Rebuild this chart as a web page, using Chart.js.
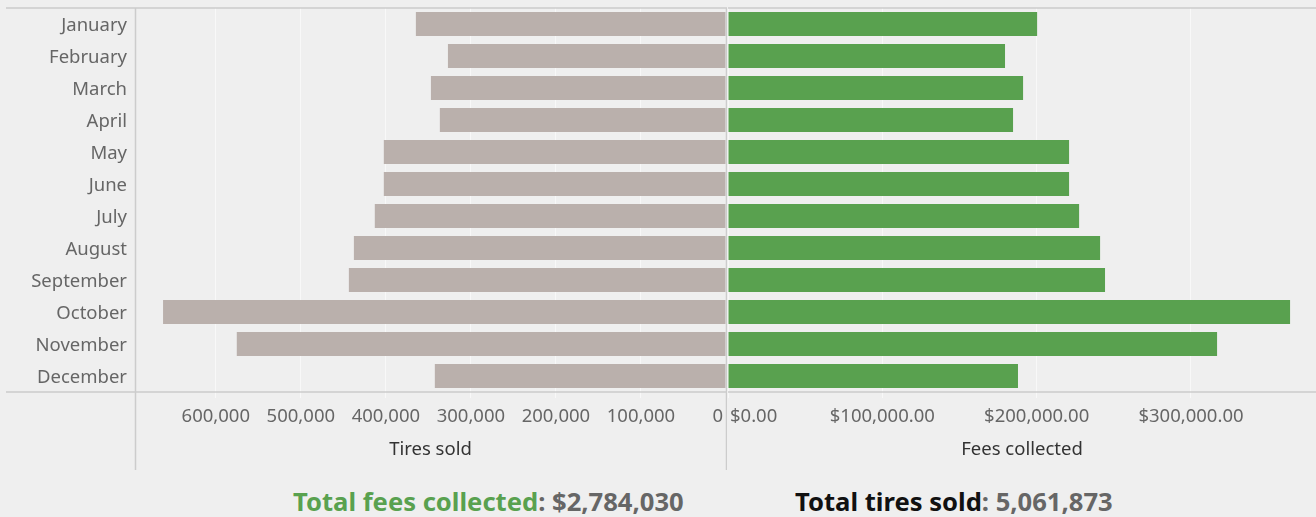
<!DOCTYPE html>
<html>
<head>
<meta charset="utf-8">
<script src="https://cdn.jsdelivr.net/npm/chart.js@4.4.1/dist/chart.umd.min.js"></script>
<style>
  html, body { margin: 0; padding: 0; background: #efefef; width: 1316px; height: 517px; overflow: hidden; }
  #wrapL { position: absolute; left: 0; top: 0; width: 727px; height: 472px; }
  #wrapR { position: absolute; left: 728px; top: 0; width: 588px; height: 472px; }
  .total { position: absolute; top: 484px; line-height: 36px; font-family: "Noto Sans", sans-serif; font-weight: bold; font-size: 25.6px; white-space: nowrap; color: #666; }
</style>
</head>
<body>
<div id="wrapL"><canvas id="left"></canvas></div>
<div id="wrapR"><canvas id="right"></canvas></div>
<div class="total" id="t1" style="left:293px"><span style="color:#59a14f">Total fees collected</span>: $2,784,030</div>
<div class="total" id="t2" style="left:795px"><span style="color:#111">Total tires sold</span>: 5,061,873</div>
<script>
const months = ["January","February","March","April","May","June","July","August","September","October","November","December"];
const tiresSold = [364700, 327000, 347000, 336500, 402400, 402400, 413000, 437600, 443500, 662000, 575300, 342400];
const feesCollected = [200300, 179500, 191200, 184700, 221000, 221000, 227500, 241100, 244300, 364200, 316900, 187900];
const tireTicks = [0, 100000, 200000, 300000, 400000, 500000, 600000];
const feeTicks = [0, 100000, 200000, 300000];
const tireMax = 695000;
const feeMax = 381000;

const FONT = '"Noto Sans", sans-serif';
const LINE = '#cccccc';
const GRID = 'rgba(255,255,255,0.55)';

const framePlugin = {
  id: 'frame',
  afterDraw(chart, args, opts) {
    const ctx = chart.ctx, a = chart.chartArea;
    ctx.save();
    ctx.strokeStyle = LINE;
    ctx.lineWidth = 1.5;
    ctx.beginPath();
    ctx.moveTo(opts.hStart, a.top); ctx.lineTo(chart.width, a.top);
    ctx.moveTo(opts.hStart, a.bottom); ctx.lineTo(chart.width, a.bottom);
    (opts.vLines || []).forEach(k => {
      const x = k === 'left' ? a.left : a.right;
      ctx.moveTo(x + 0.5, a.top); ctx.lineTo(x + 0.5, opts.vEnd);
    });
    ctx.stroke();
    ctx.restore();
  }
};

const edgeLabelPlugin = {
  id: 'edgeLabel',
  beforeDraw(chart, args, opts) {
    const s = chart.scales.x;
    if (!s || !s.getLabelItems) return;
    const items = s.getLabelItems();
    items.forEach((it, i) => {
      if (s.ticks[i] && s.ticks[i].value === 0 && !it._adj) {
        it._adj = true;
        it.options.textAlign = opts.align;
        it.options.translation = [it.options.translation[0] + opts.dx, it.options.translation[1]];
      }
    });
  }
};

function xScale(max, ticks, reverse, fmt, title) {
  return {
    type: 'linear', min: 0, max: max, reverse: reverse,
    afterBuildTicks(s) { s.ticks = ticks.map(v => ({ value: v })); },
    afterFit(s) { s.height = 80; s.paddingLeft = 0; s.paddingRight = 0; },
    grid: { color: GRID, lineWidth: 1, drawTicks: true, tickLength: 6, tickColor: GRID },
    border: { display: false },
    ticks: { color: '#666', font: { family: FONT, size: 18.5 }, padding: 8, maxRotation: 0, autoSkip: false, callback: fmt },
    title: { display: true, text: title, color: '#333', font: { family: FONT, size: 18.5 }, padding: { top: 0, bottom: 11 } }
  };
}

new Chart(document.getElementById('left'), {
  type: 'bar',
  data: { labels: months, datasets: [{ data: tiresSold, backgroundColor: '#bab0ac', barPercentage: 0.75, categoryPercentage: 1 }] },
  options: {
    indexAxis: 'y', responsive: true, maintainAspectRatio: false, animation: false,
    layout: { padding: { top: 8, right: 1, left: 0, bottom: 0 } },
    plugins: { legend: { display: false }, tooltip: { enabled: false },
      frame: { hStart: 6, vLines: ['left', 'right'], vEnd: 470 },
      edgeLabel: { align: 'right', dx: -3 } },
    scales: {
      x: xScale(tireMax, tireTicks, true, v => Number(v).toLocaleString('en-US'), 'Tires sold'),
      y: {
        afterFit(s) { s.width = 135; s.paddingTop = 0; s.paddingBottom = 0; },
        grid: { display: false, drawTicks: false }, border: { display: false },
        ticks: { color: '#666', font: { family: FONT, size: 18.5 }, padding: 8, labelOffset: 2 }
      }
    }
  },
  plugins: [framePlugin, edgeLabelPlugin]
});

new Chart(document.getElementById('right'), {
  type: 'bar',
  data: { labels: months, datasets: [{ data: feesCollected, backgroundColor: '#59a14f', barPercentage: 0.75, categoryPercentage: 1 }] },
  options: {
    indexAxis: 'y', responsive: true, maintainAspectRatio: false, animation: false,
    layout: { padding: { top: 8, right: 0, left: 0, bottom: 0 } },
    plugins: { legend: { display: false }, tooltip: { enabled: false },
      frame: { hStart: 0, vLines: [], vEnd: 470 },
      edgeLabel: { align: 'left', dx: 2 } },
    scales: {
      x: xScale(feeMax, feeTicks, false, v => '$' + Number(v).toLocaleString('en-US', { minimumFractionDigits: 2, maximumFractionDigits: 2 }), 'Fees collected'),
      y: { display: false }
    }
  },
  plugins: [framePlugin, edgeLabelPlugin]
});
</script>
</body>
</html>
